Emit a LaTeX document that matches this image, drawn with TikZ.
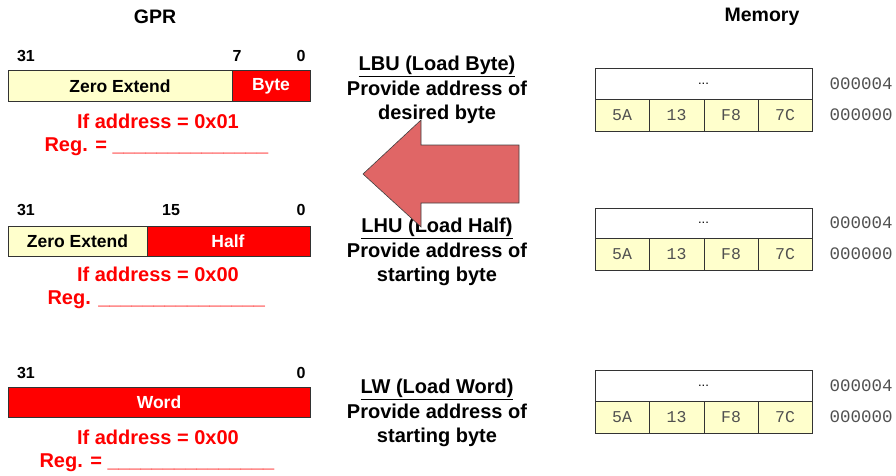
\documentclass[tikz,border=0pt]{standalone}
\usepackage{fontspec}
\setmainfont{Liberation Sans}
\newfontfamily\memfont{Liberation Mono}
\definecolor{zext}{HTML}{FFFFCC}
\definecolor{loadred}{HTML}{FF0000}
\definecolor{arrowred}{HTML}{E06666}
\definecolor{memtext}{HTML}{505050}
\begin{document}
\begin{tikzpicture}[x=1pt,y=-1pt,
  header/.style={font=\fontsize{19.5}{22}\selectfont\bfseries},
  bitlbl/.style={font=\fontsize{16}{18}\selectfont\bfseries},
  fieldtxt/.style={font=\fontsize{17.5}{20}\selectfont\bfseries},
  extbox/.style={draw=black!80, line width=0.6pt, fill=zext},
  databox/.style={draw=black!80, line width=0.6pt, fill=loadred},
  note/.style={font=\fontsize{20}{24}\selectfont\bfseries, text=loadred},
  instr/.style={font=\fontsize{20}{24.5}\selectfont\bfseries, align=center},
  memcell/.style={draw=black!80, line width=0.6pt, fill=zext},
  memtop/.style={draw=black!80, line width=0.6pt, fill=white},
  memtxt/.style={font=\fontsize{16.5}{18}\memfont, text=memtext},
  addrtxt/.style={font=\fontsize{17.5}{19}\memfont, text=memtext, anchor=west}
]
\useasboundingbox (0,0) rectangle (896,476);

% headers
\node[header] (gpr) at (155,17) {GPR};
\node[header] (mem) at (762,17) {Memory};

% ---- LBU register ----
\node[bitlbl] (b1a) at (26,56) {31};
\node[bitlbl] (b1b) at (237,56) {7};
\node[bitlbl] (b1c) at (301,56) {0};
\draw[extbox] (8,70) rectangle (232,101);
\draw[databox] (232,70) rectangle (310,101);
\node[fieldtxt] (z1) at (120,86) {Zero Extend};
\node[fieldtxt, text=white] (byte) at (271,86) {Byte};
\node[note] (n1a) at (158,121) {If address = 0x01};
\node[note, anchor=west] (n1b) at (41,147) {Reg. = \_\_\_\_\_\_\_\_\_\_\_\_\_\_};

% ---- LHU register ----
\node[bitlbl] (b2a) at (26,210) {31};
\node[bitlbl] (b2b) at (171,210) {15};
\node[bitlbl] (b2c) at (301,210) {0};
\draw[extbox] (8,226) rectangle (147,256);
\draw[databox] (147,226) rectangle (310,256);
\node[fieldtxt] (z2) at (77.5,241) {Zero Extend};
\node[fieldtxt, text=white] (half) at (228,241) {Half};
\node[note] (n2a) at (158,274) {If address = 0x00};
\node[note, anchor=west] (n2b) at (44,300) {Reg. \_\_\_\_\_\_\_\_\_\_\_\_\_\_\_};

% ---- LW register ----
\node[bitlbl] (b3a) at (26,373) {31};
\node[bitlbl] (b3c) at (301,373) {0};
\draw[databox] (8,387) rectangle (310,417);
\node[fieldtxt, text=white] (word) at (159,402) {Word};
\node[note] (n3a) at (158,437) {If address = 0x00};
\node[note, anchor=west] (n3b) at (36,463) {Reg. = \_\_\_\_\_\_\_\_\_\_\_\_\_\_\_};

% ---- instruction descriptions ----
\node[instr] (lbu) at (437,90) {\underline{LBU (Load Byte)}\\Provide address of\\desired byte};
\node[instr] (lhu) at (437,252) {\underline{LHU (Load Half)}\\Provide address of\\starting byte};
\node[instr] (lw) at (437,413) {\underline{LW (Load Word)}\\Provide address of\\starting byte};

% ---- memory blocks ----
\foreach \t/\m/\b [count=\k] in {68/99/131, 208/238/270, 370/401/433}{
  \draw[memtop] (595,\t) rectangle (812,\m);
  \node[font=\fontsize{13}{14}\selectfont] (dots\k) at (703.5,{(\t+\m)/2}) {...};
  \draw[memcell] (595,\m) rectangle (649,\b);
  \draw[memcell] (649,\m) rectangle (704,\b);
  \draw[memcell] (704,\m) rectangle (758,\b);
  \draw[memcell] (758,\m) rectangle (812,\b);
  \node[memtxt] (c\k a) at (622,{(\m+\b)/2}) {5A};
  \node[memtxt] (c\k b) at (676.5,{(\m+\b)/2}) {13};
  \node[memtxt] (c\k c) at (731,{(\m+\b)/2}) {F8};
  \node[memtxt] (c\k d) at (785,{(\m+\b)/2}) {7C};
  \node[addrtxt] (a\k hi) at (826,{(\t+\m)/2}) {000004};
  \node[addrtxt] (a\k lo) at (826,{(\m+\b)/2}) {000000};
}

% ---- big block arrow pointing to the registers ----
\draw[fill=arrowred, draw=black!75, line width=0.6pt]
  (363,174) -- (421,120) -- (421,145) -- (519,145) -- (519,203)
  -- (421,203) -- (421,227) -- cycle;
\end{tikzpicture}
\end{document}
